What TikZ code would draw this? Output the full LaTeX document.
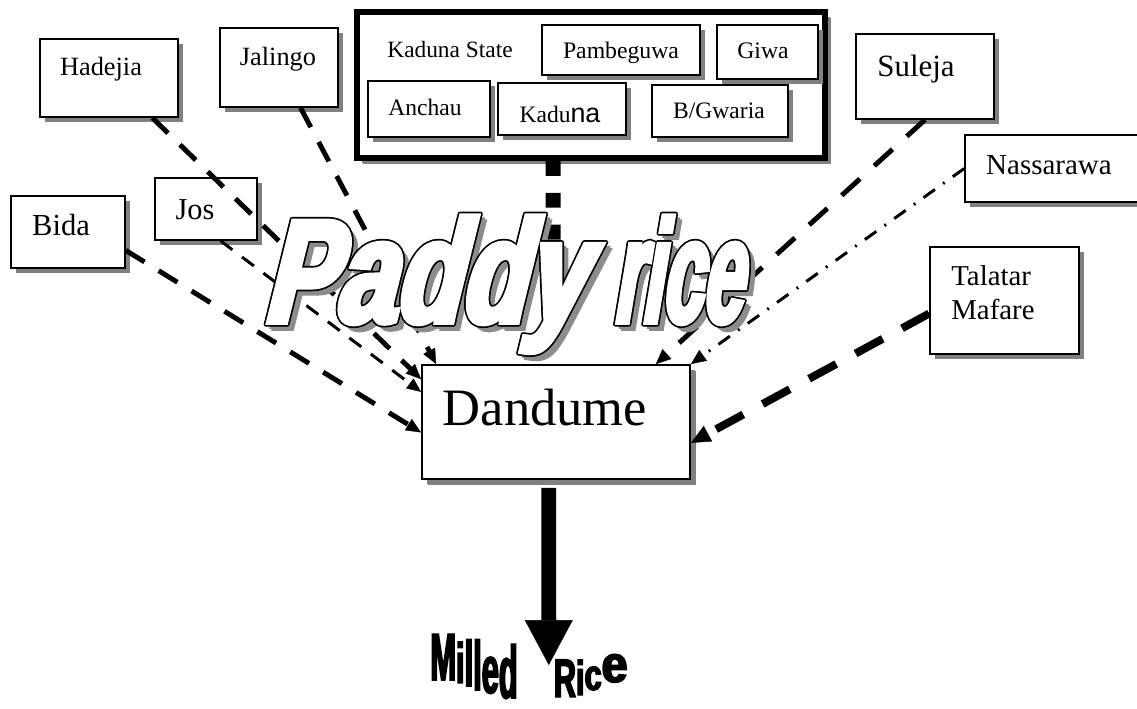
\documentclass[tikz,border=0pt]{standalone}
\usepackage{graphicx}
\usepackage{fontspec}
\setmainfont{Liberation Serif}
\newfontfamily\sansna{Liberation Sans}
\newfontfamily\paddyfont[FakeStretch=0.62,FakeSlant=0.21,FakeBold=4]{Liberation Sans}
\newfontfamily\millfont[FakeStretch=0.5,FakeBold=2.5]{Liberation Sans}
\usetikzlibrary{arrows.meta,shadows,calc}
\newlength\pxu
\setlength\pxu{0.02cm}
\newcommand\fsz[1]{\fontsize{#1}{#1}\selectfont}
\newcommand\outl[1]{%
 \makebox[0pt][l]{\kern6\pxu\raisebox{-6\pxu}{\textcolor{black!45}{#1}}}%
 \makebox[0pt][l]{\kern4\pxu\raisebox{-4\pxu}{\textcolor{black!45}{#1}}}%
 \makebox[0pt][l]{\kern1.7\pxu\textcolor{black}{#1}}%
 \makebox[0pt][l]{\kern-1.7\pxu\textcolor{black}{#1}}%
 \makebox[0pt][l]{\raisebox{1.7\pxu}{\textcolor{black}{#1}}}%
 \makebox[0pt][l]{\raisebox{-1.7\pxu}{\textcolor{black}{#1}}}%
 \makebox[0pt][l]{\kern1.2\pxu\raisebox{1.2\pxu}{\textcolor{black}{#1}}}%
 \makebox[0pt][l]{\kern1.2\pxu\raisebox{-1.2\pxu}{\textcolor{black}{#1}}}%
 \makebox[0pt][l]{\kern-1.2\pxu\raisebox{1.2\pxu}{\textcolor{black}{#1}}}%
 \makebox[0pt][l]{\kern-1.2\pxu\raisebox{-1.2\pxu}{\textcolor{black}{#1}}}%
 \textcolor{white}{#1}}
\newcommand\ml[3]{\raisebox{#1\pxu}{\scalebox{1}[#2]{#3}}}
\tikzset{
  box/.style={draw, line width=0.9pt, fill=white, inner sep=0pt,
    drop shadow={shadow xshift=0.1cm, shadow yshift=-0.1cm, opacity=1, fill=black!50}},
  lbl/.style={inner sep=0pt},
  tipS/.style={-{Triangle[length=8.5pt,width=7.5pt,line width=0.2pt]}},
  hadL/.style={line width=2.8pt, dash pattern=on 12.5pt off 9.5pt, tipS},
  josL/.style={line width=1.7pt, dash pattern=on 8.5pt off 6.8pt, -{Triangle[length=8pt,width=7pt,line width=0.2pt]}},
  kadL/.style={line width=8.5pt, dash pattern=on 8.5pt off 9.6pt, shorten >=19.8pt, -{Triangle[length=8pt,width=7pt,line width=0.2pt]}},
  sulL/.style={line width=2.8pt, dash pattern=on 14pt off 11pt, tipS},
  nasL/.style={line width=1.7pt, dash pattern=on 8pt off 5.7pt on 1.1pt off 5.7pt, tipS},
  talL/.style={line width=4.5pt, dash pattern=on 17.6pt off 12.5pt, -{Triangle[length=11pt,width=10pt,line width=0.2pt]}},
  bigL/.style={line width=8.5pt, shorten <=4.5pt, -{Triangle[length=25.5pt,width=27.2pt,line width=0.2pt]}}
}
\begin{document}
\begin{tikzpicture}[x=0.02cm, y=-0.02cm]
\useasboundingbox (0,0) rectangle (1137,708);
% outer boxes
\node[box, minimum width=138\pxu, minimum height=78\pxu] (hadejia) at (109,78) {};
\node[box, minimum width=118\pxu, minimum height=79\pxu] (jalingo) at (279,67.5) {};
\node[box, minimum width=102\pxu, minimum height=62\pxu] (jos) at (206,209) {};
\node[box, minimum width=114\pxu, minimum height=72\pxu] (bida) at (68,232) {};
\node[box, line width=3.4pt, minimum width=468\pxu, minimum height=146\pxu,
  drop shadow={shadow xshift=0.12cm, shadow yshift=-0.12cm, opacity=1, fill=black!50}] (kstate) at (591,85) {};
\node[box, minimum width=158\pxu, minimum height=50\pxu] (pamb) at (621,50) {};
\node[box, minimum width=101\pxu, minimum height=54\pxu] (giwa) at (767.5,52) {};
\node[box, minimum width=122\pxu, minimum height=56\pxu] (anchau) at (429,109) {};
\node[box, minimum width=128\pxu, minimum height=52\pxu] (kaduna) at (562,109) {};
\node[box, minimum width=136\pxu, minimum height=52\pxu] (bgwaria) at (720,111) {};
\node[box, minimum width=138\pxu, minimum height=85\pxu] (suleja) at (925,76.5) {};
\node[box, minimum width=185\pxu, minimum height=67\pxu] (nassarawa) at (1057.5,168.5) {};
\node[box, minimum width=149\pxu, minimum height=107\pxu] (talatar) at (1004.5,300.5) {};
\node[box, line width=1.1pt, minimum width=268\pxu, minimum height=114\pxu,
  drop shadow={shadow xshift=0.11cm, shadow yshift=-0.11cm, opacity=1, fill=black!50}] (dandume) at (556,422) {};
% texts
\node[lbl, anchor=base, font=\fsz{15pt}] (hadejiaT) at (101,75) {Hadejia};
\node[lbl, anchor=base, font=\fsz{15pt}] (jalingoT) at (278,65) {Jalingo};
\node[lbl, anchor=base, font=\fsz{17.3pt}] (josT) at (195,219) {Jos};
\node[lbl, anchor=base, font=\fsz{17.4pt}] (bidaT) at (61,235) {Bida};
\node[lbl, anchor=base, font=\fsz{13.3pt}] (kstateT) at (450,57) {Kaduna State};
\node[lbl, anchor=base, font=\fsz{13.5pt}] (pambT) at (621,58) {Pambeguwa};
\node[lbl, anchor=base, font=\fsz{13.5pt}] (giwaT) at (763,58) {Giwa};
\node[lbl, anchor=base, font=\fsz{13.4pt}] (anchauT) at (425,115) {Anchau};
\node[lbl, anchor=base, font=\fsz{13.4pt}] (kadunaT) at (560,122) {Kadu{\sansna\fsz{15.3pt}na}};
\node[lbl, anchor=base, font=\fsz{13.4pt}] (bgwariaT) at (719,118) {B/Gwaria};
\node[lbl, anchor=base, font=\fsz{17.6pt}] (sulejaT) at (916,76) {Suleja};
\node[lbl, anchor=base, font=\fsz{16.5pt}] (nassarawaT) at (1049,174) {Nassarawa};
\node[lbl, anchor=base west, font=\fsz{16.4pt}, align=left] (talatarT) at (951,319) {Talatar\\[2.9pt]Mafare};
\node[lbl, anchor=base, font=\fsz{29.9pt}] (dandumeT) at (545,425) {Dandume};
% connectors
\draw[hadL] ($(hadejia.south west)!0.81!(hadejia.south east)$) -- ($(dandume.north west)!0.13!(dandume.south west)$);
\draw[josL] ($(jos.south west)!0.64!(jos.south east)$) -- ($(dandume.north west)!0.24!(dandume.south west)$);
\draw[hadL] ($(bida.north east)!0.75!(bida.south east)$) -- ($(dandume.north west)!0.59!(dandume.south west)$);
\draw[hadL] ($(jalingo.south west)!0.68!(jalingo.south east)$) -- ($(dandume.north west)!0.056!(dandume.north east)$);
\draw[kadL] ($(kstate.south west)!0.42!(kstate.south east)$) -- ($(dandume.north west)!0.49!(dandume.north east)$);
\draw[sulL] (suleja.south) -- ($(dandume.north west)!0.87!(dandume.north east)$);
\draw[nasL] (nassarawa.west) -- (dandume.north east);
\draw[talL] ($(talatar.north west)!0.62!(talatar.south west)$) -- ($(dandume.north east)!0.68!(dandume.south east)$);
% title
\node[lbl, anchor=base west] (paddy) at (262,322) {\paddyfont\bfseries\fsz{83.1pt}\outl{\scalebox{1.18}[1]{Paddy\ }\scalebox{0.8}[1]{rice}}};
% output
\coordinate (millTip) at (548.8,665);
\draw[bigL] ($(dandume.south west)!0.473!(dandume.south east)$) -- (millTip);
\node[lbl, anchor=base west] (milled) at (430,698) {\millfont\bfseries\fsz{35.1pt}%
  \ml{18}{1.08}{M}\ml{15}{0.92}{i}\ml{12}{1.04}{l}\ml{8}{1.13}{l}\ml{5}{1.09}{e}\ml{0}{1.2}{d}\hspace{36\pxu}%
  \ml{1}{0.88}{R}\ml{3}{0.79}{i}\ml{8}{0.71}{c}\raisebox{16\pxu}{\scalebox{1.5}[0.84]{e}}};
\end{tikzpicture}
\end{document}
